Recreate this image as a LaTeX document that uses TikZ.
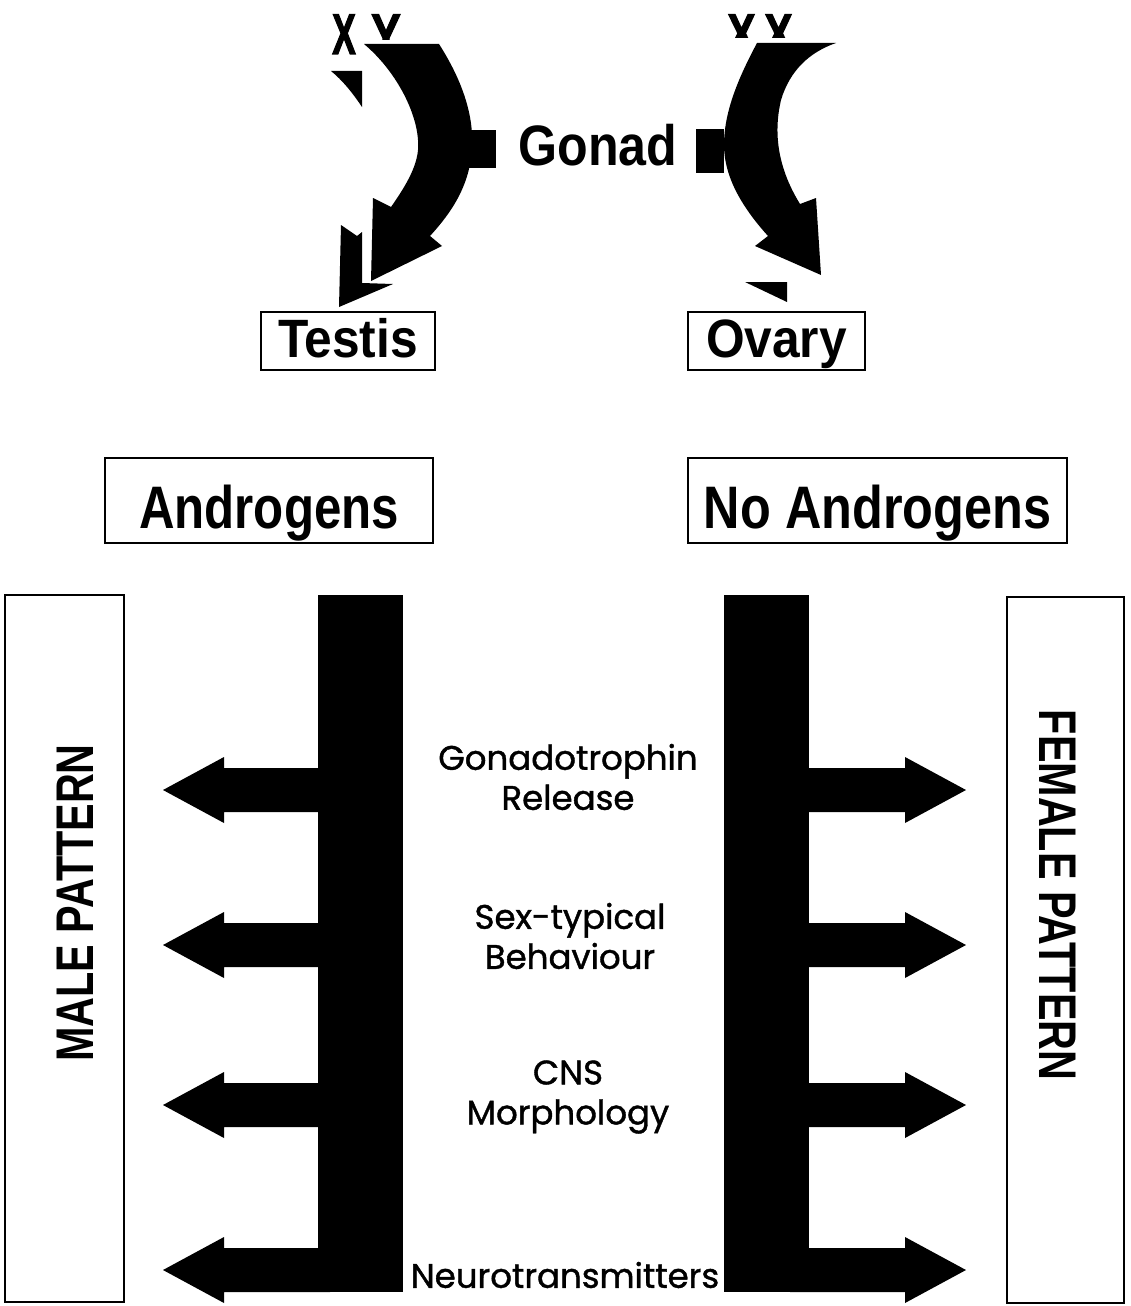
\documentclass[tikz,border=0pt]{standalone}
\usepackage{fontspec}
\setmainfont{Liberation Sans}
\newfontfamily\geo{Poppins}[FakeBold=1.2]
\newfontfamily\heavy{Liberation Sans}[FakeBold=2.5]
\begin{document}
\begin{tikzpicture}[x=1pt,y=-1pt,
  box/.style={draw, line width=2pt, inner sep=0pt},
  smallbox/.style={box, font=\fontsize{54}{60}\selectfont\bfseries, text height=40pt, text depth=8pt, minimum height=58pt},
  bigbox/.style={box, font=\fontsize{60}{66}\selectfont\bfseries, text height=60pt, text depth=5pt, minimum height=85pt},
  side/.style={font=\fontsize{53}{60}\selectfont\bfseries},
  mid/.style={font=\geo\fontsize{34}{40}\selectfont, align=center},
  bar/.style={fill=black, inner sep=0pt},
  chrom/.style={font=\heavy\fontsize{44}{50}\selectfont\bfseries, anchor=base, inner sep=0pt}]
\useasboundingbox (0,0) rectangle (1130,1306);

% chromosome labels (partly hidden)
\node[chrom] (xa) at (344,54) {\scalebox{0.8}[1.3]{X}};
\begin{scope}
  \clip (360,0) rectangle (420,40);
  \node[chrom] (ya) at (386,54) {\scalebox{1}[1.3]{Y}};
\end{scope}
\begin{scope}
  \clip (700,0) rectangle (850,38);
  \node[chrom] (xb) at (741.5,54) {\scalebox{0.95}[1.3]{X}};
  \node[chrom] (xc) at (778.5,54) {\scalebox{0.95}[1.3]{X}};
\end{scope}

% Gonad
\node[font=\fontsize{57}{60}\selectfont\bfseries] (gonad) at (598,145) {\scalebox{0.88}[1]{Gonad}};

% left curved arrow
\fill (364,44) -- (439,44) .. controls (462,80) and (474,115) .. (472,148)
  .. controls (470,185) and (452,212) .. (430,236) -- (442,246) -- (371,281)
  -- (373,198) -- (391,207) .. controls (410,180) and (420,160) .. (418,140)
  .. controls (416,110) and (395,70) .. (364,44) -- cycle;
\fill (468,130) rectangle (496,168);
\fill (331,71) -- (362,71) -- (362,107) .. controls (352,92) and (342,80) .. (331,71) -- cycle;
\fill (341,225) -- (357,236) -- (362,232) -- (362,283) -- (393,284) -- (339,307) -- cycle;

% right curved arrow
\fill (757,43) -- (836,43) .. controls (810,52) and (790,70) .. (781,100)
  .. controls (774,130) and (776,165) .. (800,204) -- (816,198) -- (821,275)
  -- (755,246) -- (768,236) .. controls (740,205) and (724,175) .. (724,145)
  .. controls (724,110) and (740,75) .. (757,43) -- cycle;
\fill (696,129) rectangle (724,173);
\fill (745,282) -- (787,282) -- (787,302) -- cycle;

% boxes
\node[smallbox, minimum width=174pt] (testis) at (348,341) {\scalebox{0.92}[1]{Testis}};
\node[smallbox, minimum width=177pt] (ovary) at (776.5,341) {\scalebox{0.92}[1]{Ovary}};
\node[bigbox, minimum width=328pt] (andr) at (269,500.5) {\scalebox{0.82}[1]{Androgens}};
\node[bigbox, minimum width=379pt] (noandr) at (877.5,500.5) {\scalebox{0.84}[1]{No Androgens}};

\node[box, minimum width=119pt, minimum height=707pt] (male) at (64.5,948.5) {};
\node[side, rotate=90] (maletxt) at (75,903) {\scalebox{0.78}[1]{MALE PATTERN}};
\node[box, minimum width=117pt, minimum height=706pt] (female) at (1065.5,950) {};
\node[side, rotate=-90] (femtxt) at (1058,895) {\scalebox{0.78}[1]{FEMALE PATTERN}};

% bars
\node[bar, minimum width=85pt, minimum height=697pt] (lbar) at (360.5,943.5) {};
\node[bar, minimum width=85pt, minimum height=697pt] (rbar) at (766,943.5) {};

% side arrows
\foreach \y in {790,945,1105,1270} {
  \fill (330,\y-22) -- (224,\y-22) -- (224,\y-33) -- (163,\y) -- (224,\y+33) -- (224,\y+22) -- (330,\y+22) -- cycle;
  \fill (790,\y-22) -- (905,\y-22) -- (905,\y-33) -- (966,\y) -- (905,\y+33) -- (905,\y+22) -- (790,\y+22) -- cycle;
}

% middle labels
\node[mid] (l1) at (568,777) {Gonadotrophin\\Release};
\node[mid] (l2) at (570,936) {Sex-typical\\Behaviour};
\node[mid] (l3) at (568,1097) {CNS\\Morphology};
\node[mid] (l4) at (565,1275) {Neurotransmitters};
\end{tikzpicture}
\end{document}
